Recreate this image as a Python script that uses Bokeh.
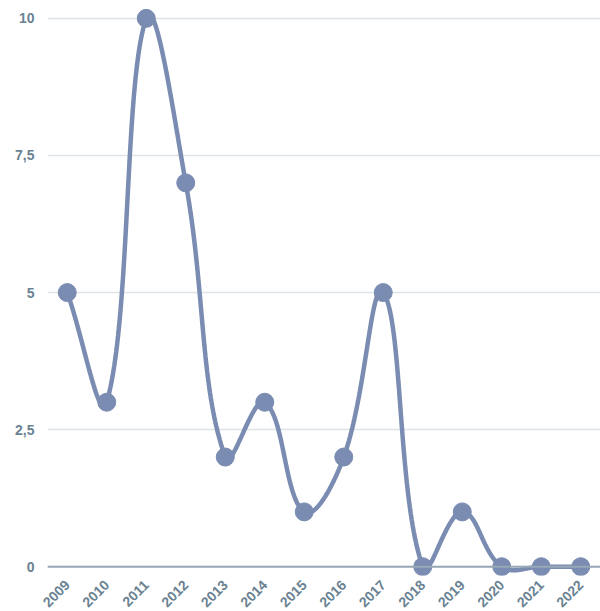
import math
import numpy as np
from bokeh.plotting import figure
from bokeh.models import FixedTicker, Range1d, Span
from bokeh.embed import file_html
from bokeh.resources import INLINE

years = ["2009", "2010", "2011", "2012", "2013", "2014", "2015",
         "2016", "2017", "2018", "2019", "2020", "2021", "2022"]
values = [5, 3, 10, 7, 2, 3, 1, 2, 5, 0, 1, 0, 0, 0]
y_ticks = [0, 2.5, 5, 7.5, 10]
y_tick_labels = ["0", "2,5", "5", "7,5", "10"]

LINE_COLOR = "#7a8cb1"
LABEL_COLOR = "#6a8292"

FRAME_W, FRAME_H = 553, 567
Y0, Y1 = -0.16, 10.18
X0, X1 = -0.5, len(values) - 0.5
sx = FRAME_W / (X1 - X0)
sy = FRAME_H / (Y1 - Y0)

xs = np.arange(len(values), dtype=float)
ys = np.array(values, dtype=float)
n = len(xs)
tension = 0.4

# tension-based bezier control points (distance weighted in screen space)
prev_ctrl, next_ctrl = [], []
for i in range(n):
    pv = (xs[max(i - 1, 0)], ys[max(i - 1, 0)])
    cu = (xs[i], ys[i])
    nx = (xs[min(i + 1, n - 1)], ys[min(i + 1, n - 1)])
    d01 = math.hypot((cu[0] - pv[0]) * sx, (cu[1] - pv[1]) * sy)
    d12 = math.hypot((nx[0] - cu[0]) * sx, (nx[1] - cu[1]) * sy)
    tot = d01 + d12
    s01 = d01 / tot if tot else 0.0
    s12 = d12 / tot if tot else 0.0
    fa, fb = tension * s01, tension * s12
    prev_ctrl.append((cu[0] - fa * (nx[0] - pv[0]), cu[1] - fa * (nx[1] - pv[1])))
    next_ctrl.append((cu[0] + fb * (nx[0] - pv[0]), cu[1] + fb * (nx[1] - pv[1])))

cx, cy = [], []
for i in range(n - 1):
    p1 = (xs[i], ys[i])
    p2 = (xs[i + 1], ys[i + 1])
    c1 = next_ctrl[i]
    c2 = prev_ctrl[i + 1]
    for t in np.linspace(0, 1, 50, endpoint=(i == n - 2)):
        a = (1 - t) ** 3
        b = 3 * (1 - t) ** 2 * t
        c = 3 * (1 - t) * t ** 2
        d = t ** 3
        cx.append(a * p1[0] + b * c1[0] + c * c2[0] + d * p2[0])
        cy.append(a * p1[1] + b * c1[1] + c * c2[1] + d * p2[1])

p = figure(output_backend="svg", toolbar_location=None,
           frame_width=FRAME_W, frame_height=FRAME_H,
           min_border_left=47, min_border_right=0, min_border_top=8,
           min_border_bottom=10,
           x_range=Range1d(X0, X1),
           y_range=Range1d(Y0, Y1))
p.outline_line_color = None
p.background_fill_color = "white"

p.xgrid.visible = False
p.ygrid.grid_line_color = "#dde3e7"
p.ygrid.grid_line_width = 1.5
p.ygrid.ticker = FixedTicker(ticks=y_ticks)

p.yaxis.ticker = FixedTicker(ticks=y_ticks)
p.yaxis.major_label_overrides = {float(k): v for k, v in zip(y_ticks, y_tick_labels)}
p.yaxis.axis_line_color = None
p.yaxis.major_tick_line_color = None
p.yaxis.minor_tick_line_color = None
p.yaxis.major_tick_out = 0
p.yaxis.major_label_standoff = 13
p.yaxis.major_label_text_font = "Liberation Sans"
p.yaxis.major_label_text_font_style = "bold"
p.yaxis.major_label_text_font_size = "14px"
p.yaxis.major_label_text_color = LABEL_COLOR

p.xaxis.ticker = FixedTicker(ticks=list(range(len(years))))
p.xaxis.major_label_overrides = {i: y for i, y in enumerate(years)}
p.xaxis.major_label_orientation = math.pi / 4
p.xaxis.axis_line_color = None
p.xaxis.major_tick_line_color = None
p.xaxis.minor_tick_line_color = None
p.xaxis.major_tick_out = 0
p.xaxis.major_label_standoff = 7
p.xaxis.major_label_text_font = "Liberation Sans"
p.xaxis.major_label_text_font_style = "bold"
p.xaxis.major_label_text_font_size = "14px"
p.xaxis.major_label_text_color = LABEL_COLOR

zero = Span(location=0, dimension="width", line_color="#97a9b6", line_width=2)
p.add_layout(zero)

p.line(cx, cy, line_color=LINE_COLOR, line_width=4.5)
p.scatter(xs, ys, size=18, fill_color=LINE_COLOR, line_color=LINE_COLOR)

open("out.html", "w").write(file_html(p, INLINE))
